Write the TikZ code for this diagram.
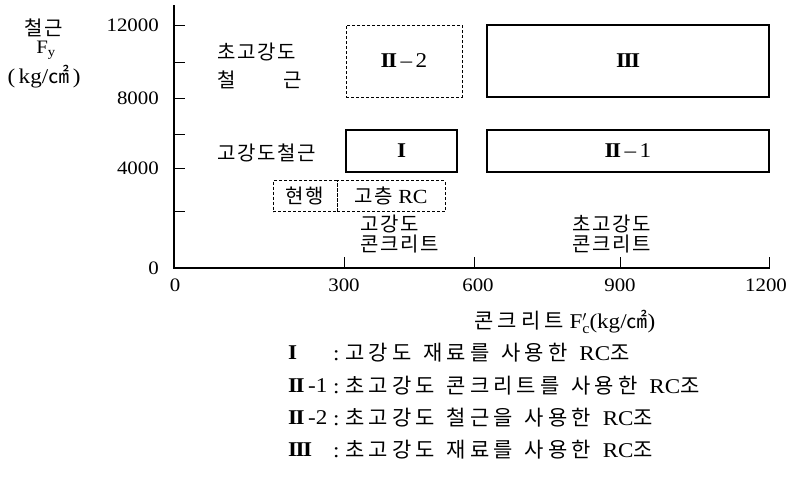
\documentclass[tikz,border=0pt]{standalone}
\usepackage{fontspec}
\setmainfont{Liberation Serif}[FakeStretch=1.1]
\newfontfamily\kr[LetterSpace=8]{Noto Sans CJK KR}
\newfontfamily\krw[LetterSpace=19]{Noto Sans CJK KR}
\newcommand\K[1]{{\kr #1}}
\newcommand\KW[1]{{\krw #1}}
\newcommand\ws{\hspace{12pt}}
\newcommand\RI{{\bfseries I}}
\newcommand\RII{{\bfseries I\kern-1.5pt I}}
\newcommand\RIII{{\bfseries I\kern-1.5pt I\kern-1.5pt I}}
\begin{document}
\begin{tikzpicture}[x=1pt,y=-1pt,
  every node/.style={inner sep=0pt, font=\fontsize{19}{21}\selectfont},
  krfont/.style={font=\fontsize{20}{21}\selectfont},
  legfont/.style={font=\fontsize{21}{22}\selectfont},
  boxfont/.style={font=\fontsize{21}{22}\selectfont},
  axisline/.style={line width=1.6pt},
  tick/.style={line width=0.9pt},
  sbox/.style={draw, line width=1.1pt, boxfont},
  dbox/.style={draw, line width=0.9pt, dash pattern=on 3pt off 2pt}]
\useasboundingbox (0,0) rectangle (791,480);
% axes
\coordinate (ytop) at (174,5);
\coordinate (orig) at (174,268);
\coordinate (xend) at (770,268);
\draw[axisline] (ytop) -- (orig) -- (xend);
% y ticks
\foreach \y in {25,62,98,134,168,211} \draw[tick] (174,\y) -- (185,\y);
% x ticks
\foreach \x in {344,474,620,769} \draw[tick] (\x,268) -- (\x,257);
% y tick labels
\node[anchor=east] (y12) at (159,25) {12000};
\node[anchor=east] (y8) at (159,98) {8000};
\node[anchor=east] (y4) at (159,168) {4000};
\node[anchor=east] (y0) at (159,268) {0};
% x tick labels
\node (x0) at (175,285) {0};
\node (x3) at (344,285) {300};
\node (x6) at (478,285) {600};
\node (x9) at (620,285) {900};
\node (x12) at (766,285) {1200};
% y axis title
\node[krfont] (yt1) at (44,28) {\K{철근}};
\node (yt2) at (46,50) {F\textsubscript{y}};
\node[legfont] (yt3) at (44,77) {(\,kg/\K{㎠}\,)};
% x axis title
\node[legfont] (xt) at (565,322) {\KW{콘크리트} F$'_{\mathrm{c}}$(kg/\K{㎠})};
% boxes
\node[dbox, boxfont, minimum width=116pt, minimum height=72pt] (b22) at (404,61) {\RII\,--\,2};
\node[sbox, minimum width=282pt, minimum height=72pt] (b3) at (628,61) {\RIII};
\node[sbox, minimum width=111pt, minimum height=42pt] (b1) at (401.5,151) {\RI};
\node[sbox, minimum width=282pt, minimum height=42pt] (b21) at (628,151) {\RII\,--\,1};
\node[dbox, krfont, minimum width=64pt, minimum height=31pt] (cur) at (305,196) {\K{현행}};
\node[dbox, krfont, minimum width=108pt, minimum height=31pt] (hr) at (391,196) {\K{고층} RC};
% left labels
\node[krfont, anchor=west] (uhs1) at (217,52) {\K{초고강도}};
\node[krfont, anchor=west] (uhs2) at (217,80) {\K{철}\hspace{48pt}\K{근}};
\node[krfont, anchor=west] (hs) at (217,153) {\K{고강도철근}};
% concrete labels
\node[krfont, anchor=west, align=left] (hc) at (360,234) {\K{고강도}\\[-1pt]\K{콘크리트}};
\node[krfont, align=center] (uhc) at (612,234) {\K{초고강도}\\[-1pt]\K{콘크리트}};
% legend
\begin{scope}[every node/.append style={legfont, anchor=west}]
\node (l1a) at (288,353) {\RI};
\node (l2a) at (288,386) {\RII\,-1};
\node (l3a) at (288,418) {\RII\,-2};
\node (l4a) at (288,450) {\RIII};
\node (l1) at (333,353) {:\hspace{6pt}\KW{고강도}\ws\KW{재료를}\ws\KW{사용한}\ws RC\KW{조}};
\node (l2) at (333,386) {:\hspace{6pt}\KW{초고강도}\ws\KW{콘크리트를}\ws\KW{사용한}\ws RC\KW{조}};
\node (l3) at (333,418) {:\hspace{6pt}\KW{초고강도}\ws\KW{철근을}\ws\KW{사용한}\ws RC\KW{조}};
\node (l4) at (333,450) {:\hspace{6pt}\KW{초고강도}\ws\KW{재료를}\ws\KW{사용한}\ws RC\KW{조}};
\end{scope}
\end{tikzpicture}
\end{document}
